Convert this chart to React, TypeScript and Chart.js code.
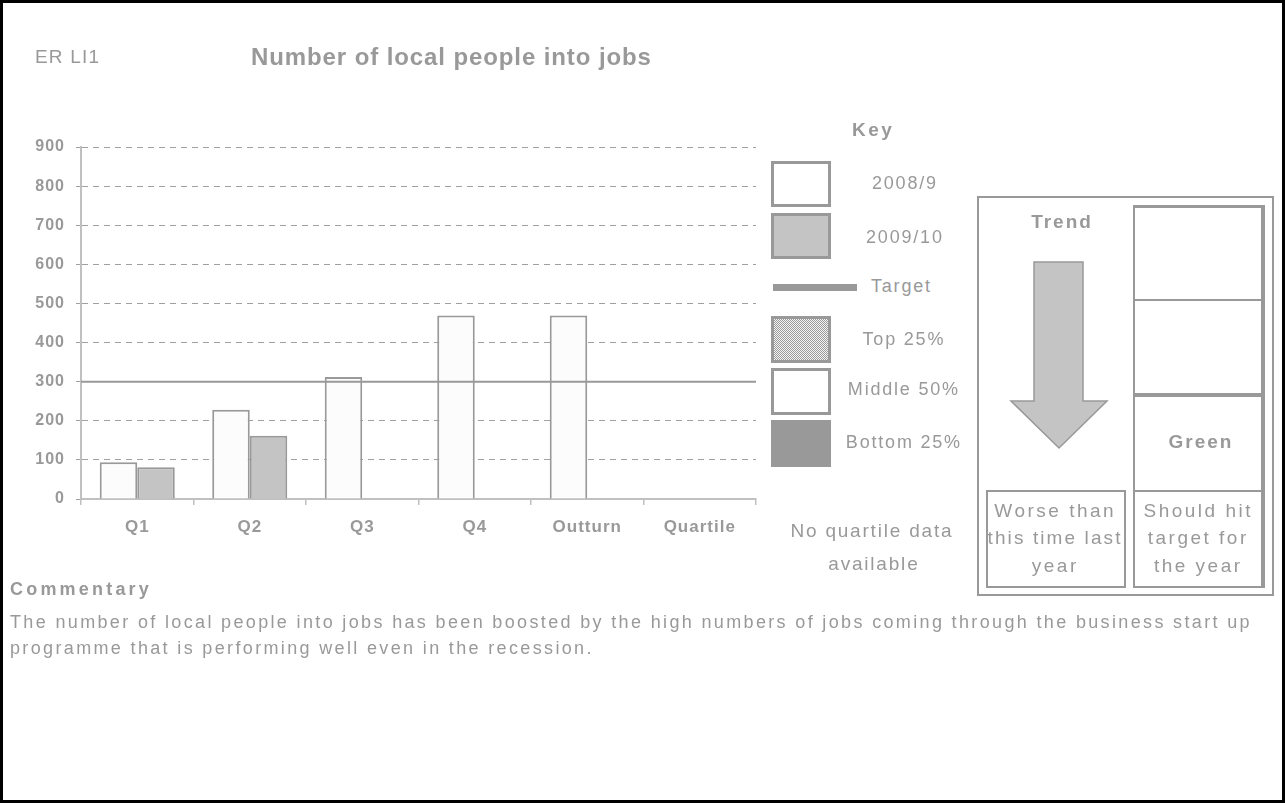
import React, { useEffect, useRef } from "react";
import { Chart, registerables } from "chart.js";

Chart.register(...registerables);

const categories = ["Q1", "Q2", "Q3", "Q4", "Outturn", "Quartile"];
const series0809 = [94, 228, 312, 469, 469, null];
const series0910 = [81, 162, null, null, null, null];
const targetValue = 300;
const yMax = 900;
const yStep = 100;

const GRAY = "#999999";
const FONT = "'Liberation Sans', Arial, sans-serif";

const spacingPlugin = {
  id: "letterSpacing",
  beforeDraw(chart: any) {
    chart.ctx.letterSpacing = "1px";
  },
};

const targetPlugin = {
  id: "targetLine",
  afterDatasetsDraw(chart: any) {
    const { ctx, chartArea, scales } = chart;
    const y = scales.y.getPixelForValue(targetValue);
    ctx.save();
    ctx.strokeStyle = GRAY;
    ctx.lineWidth = 2;
    ctx.setLineDash([]);
    ctx.beginPath();
    ctx.moveTo(chartArea.left, y);
    ctx.lineTo(chartArea.right, y);
    ctx.stroke();
    ctx.restore();
  },
};

function Txt(props: {
  x: number;
  y: number;
  children: React.ReactNode;
  size?: number;
  bold?: boolean;
  align?: "left" | "center";
  ls?: number;
}) {
  const { x, y, size = 18, bold = false, align = "center", ls = 0 } = props;
  const lh = size * 1.2;
  const style: React.CSSProperties = {
    position: "absolute",
    top: y - lh / 2,
    left: align === "center" ? x - 300 : x,
    width: align === "center" ? 600 : undefined,
    textAlign: align,
    fontSize: size,
    lineHeight: lh + "px",
    fontWeight: bold ? "bold" : "normal",
    color: GRAY,
    fontFamily: FONT,
    whiteSpace: "nowrap",
    letterSpacing: ls,
    textIndent: align === "center" ? ls : 0,
  };
  return <div style={style}>{props.children}</div>;
}

function Box(props: {
  x: number;
  y: number;
  w: number;
  h: number;
  style?: React.CSSProperties;
}) {
  return (
    <div
      style={{
        position: "absolute",
        left: props.x,
        top: props.y,
        width: props.w,
        height: props.h,
        boxSizing: "border-box",
        ...props.style,
      }}
    />
  );
}

export default function App() {
  const ref = useRef<HTMLCanvasElement | null>(null);

  useEffect(() => {
    document.body.style.margin = "0";
    document.body.style.overflow = "hidden";
    if (!ref.current) return;
    const chart = new Chart(ref.current, {
      type: "bar",
      data: {
        labels: categories,
        datasets: [
          {
            label: "2008/9",
            data: series0809,
            backgroundColor: "#fcfcfc",
            borderColor: GRAY,
            borderWidth: 2,
            categoryPercentage: 0.667,
            barPercentage: 1,
          },
          {
            label: "2009/10",
            data: series0910,
            backgroundColor: "#c4c4c4",
            borderColor: GRAY,
            borderWidth: 2,
            categoryPercentage: 0.667,
            barPercentage: 1,
          },
        ],
      },
      options: {
        animation: false,
        responsive: true,
        maintainAspectRatio: false,
        devicePixelRatio: 1,
        layout: { padding: { top: 147, right: 14, left: 0, bottom: 0 } },
        plugins: {
          legend: { display: false },
          tooltip: { enabled: false },
          title: { display: false },
        },
        scales: {
          x: {
            afterFit: (s: any) => {
              s.height = 61;
            },
            grid: {
              drawOnChartArea: false,
              drawTicks: true,
              tickLength: 6,
              color: "#c0c0c0",
              lineWidth: 1.5,
            },
            border: { color: "#c0c0c0", width: 2 },
            ticks: {
              color: GRAY,
              padding: 12,
              font: { family: FONT, size: 17, weight: "bold" },
            },
          },
          y: {
            min: 0,
            max: yMax,
            afterFit: (s: any) => {
              s.width = 81;
            },
            grid: {
              color: "#a0a0a0",
              lineWidth: 1,
              drawTicks: true,
              tickLength: 5,
              tickColor: "#a0a0a0",
            },
            border: { color: "#c0c0c0", width: 2, dash: [6, 5] },
            ticks: {
              stepSize: yStep,
              color: GRAY,
              padding: 11,
              font: { family: FONT, size: 16, weight: "bold" },
            },
          },
        },
      },
      plugins: [spacingPlugin, targetPlugin],
    } as any);
    return () => chart.destroy();
  }, []);

  return (
    <div
      style={{
        position: "absolute",
        left: 0,
        top: 0,
        width: 1285,
        height: 803,
        background: "#fff",
        overflow: "hidden",
        fontFamily: FONT,
      }}
    >
      <div
        style={{ position: "absolute", left: 0, top: 0, width: 770, height: 560 }}
      >
        <canvas ref={ref} />
      </div>

      <Txt x={35} y={57} size={19} align="left" ls={1.2}>
        ER LI1
      </Txt>
      <Txt x={251} y={57} size={24} bold align="left" ls={0.9}>
        Number of local people into jobs
      </Txt>

      {/* Key */}
      <Txt x={872} y={130} size={19} bold ls={2.5}>
        Key
      </Txt>
      <Box x={771} y={161} w={60} h={46} style={{ border: "3px solid #999", background: "#fff" }} />
      <Txt x={904} y={184} ls={1.8}>2008/9</Txt>
      <Box x={771} y={213} w={60} h={46} style={{ border: "3px solid #999", background: "#c4c4c4" }} />
      <Txt x={904} y={238} ls={1.8}>2009/10</Txt>
      <Box x={773} y={284} w={84} h={7} style={{ background: "#999" }} />
      <Txt x={871} y={287} align="left" ls={1.8}>Target</Txt>
      <Box
        x={771}
        y={316}
        w={60}
        h={47}
        style={{
          border: "3px solid #999",
          backgroundImage: "repeating-conic-gradient(#9a9a9a 0% 25%, #f4f4f4 0% 50%)",
          backgroundSize: "2px 2px",
        }}
      />
      <Txt x={903} y={340} ls={1.8}>Top 25%</Txt>
      <Box x={771} y={368} w={60} h={47} style={{ border: "3px solid #999", background: "#fff" }} />
      <Txt x={903} y={390} ls={1.8}>Middle 50%</Txt>
      <Box x={771} y={420} w={60} h={47} style={{ background: "#999" }} />
      <Txt x={903} y={443} ls={1.8}>Bottom 25%</Txt>
      <Txt x={871} y={531} size={19} ls={1.8}>No quartile data</Txt>
      <Txt x={873} y={564} size={19} ls={1.8}>available</Txt>

      {/* Trend panel */}
      <Box x={977} y={196} w={297} h={400} style={{ border: "2px solid #999" }} />
      <Txt x={1061} y={222} size={19} bold ls={2}>
        Trend
      </Txt>
      <svg
        style={{ position: "absolute", left: 0, top: 0 }}
        width={1285}
        height={803}
      >
        <polygon
          points="1034,262 1083,262 1083,401 1107,401 1059,448 1011,401 1034,401"
          fill="#c4c4c4"
          stroke="#999"
          strokeWidth={1.5}
        />
      </svg>
      <Box x={1133} y={205} w={132} h={96} style={{ border: "2px solid #999", borderTopWidth: 3, borderRightWidth: 4 }} />
      <Box x={1133} y={299} w={132} h={97} style={{ border: "2px solid #999", borderBottomWidth: 3, borderRightWidth: 4 }} />
      <Box x={1133} y={394} w={132} h={98} style={{ border: "2px solid #999", borderTopWidth: 3, borderRightWidth: 4 }} />
      <Txt x={1200} y={442} size={19} bold ls={2}>
        Green
      </Txt>
      <Box x={1133} y={490} w={132} h={98} style={{ border: "2px solid #999", borderRightWidth: 4 }} />
      <Box x={986} y={490} w={140} h={98} style={{ border: "2px solid #999" }} />
      <Txt x={1054} y={511} size={19} ls={2.5}>Worse than</Txt>
      <Txt x={1054} y={538} size={19} ls={2.1}>this time last</Txt>
      <Txt x={1054} y={566} size={19} ls={2.5}>year</Txt>
      <Txt x={1197} y={511} size={19} ls={2.5}>Should hit</Txt>
      <Txt x={1197} y={538} size={19} ls={2.5}>target for</Txt>
      <Txt x={1197} y={566} size={19} ls={2.5}>the year</Txt>

      {/* Commentary */}
      <Txt x={10} y={590} size={18} bold align="left" ls={3.2}>
        Commentary
      </Txt>
      <Txt x={10} y={623} size={18} align="left" ls={2.35}>
        The number of local people into jobs has been boosted by the high numbers of jobs coming through the business start up
      </Txt>
      <Txt x={10} y={649} size={18} align="left" ls={2.35}>
        programme that is performing well even in the recession.
      </Txt>

      {/* Page frame */}
      <div
        style={{
          position: "absolute",
          left: 0,
          top: 0,
          width: 1285,
          height: 803,
          boxSizing: "border-box",
          border: "3px solid #000",
          pointerEvents: "none",
        }}
      />
    </div>
  );
}
